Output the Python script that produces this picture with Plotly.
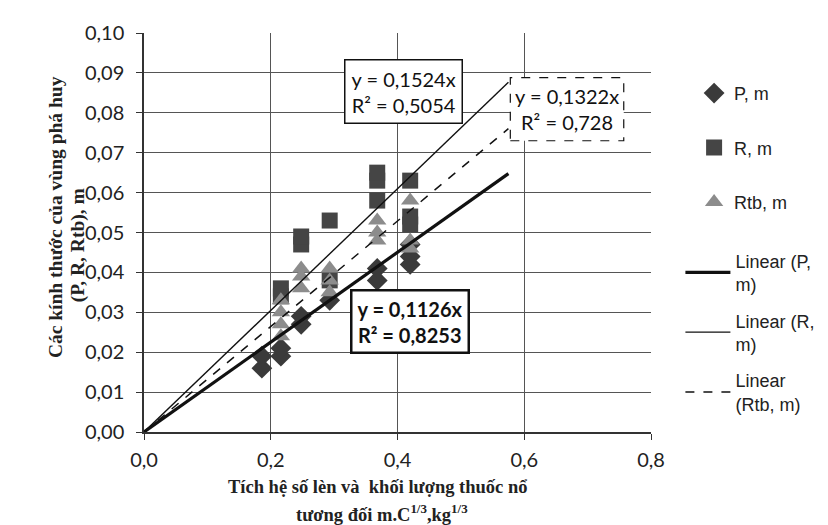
import plotly.graph_objects as go

# ---- data ----
p_x = [0.186, 0.186, 0.216, 0.216, 0.248, 0.248, 0.293, 0.368, 0.368, 0.42, 0.42, 0.42]
p_y = [0.016, 0.019, 0.019, 0.021, 0.027, 0.029, 0.033, 0.038, 0.041, 0.042, 0.044, 0.047]

r_x = [0.216, 0.216, 0.248, 0.248, 0.293, 0.293, 0.368, 0.368, 0.368, 0.42, 0.42, 0.42]
r_y = [0.034, 0.036, 0.047, 0.049, 0.038, 0.053, 0.058, 0.063, 0.065, 0.052, 0.054, 0.063]

rtb_x = [0.216, 0.216, 0.216, 0.216, 0.248, 0.248, 0.248, 0.293, 0.293, 0.293, 0.368, 0.368, 0.368, 0.42, 0.42, 0.42]
rtb_y = [0.024, 0.027, 0.030, 0.033, 0.036, 0.039, 0.041, 0.035, 0.038, 0.041, 0.048, 0.050, 0.053, 0.046, 0.048, 0.058]

slope_p, r2_p = 0.1126, 0.8253
slope_r, r2_r = 0.1524, 0.5054
slope_rtb, r2_rtb = 0.1322, 0.728
trend_x = [0.0, 0.575]

x_ticks = [0.0, 0.2, 0.4, 0.6, 0.8]
y_ticks = [0.00, 0.01, 0.02, 0.03, 0.04, 0.05, 0.06, 0.07, 0.08, 0.09, 0.10]

LEG_FONT = dict(family="Liberation Sans, Arial, sans-serif", size=18, color="#222")
TICK_FONT = dict(family="Lato, Carlito, sans-serif", size=20, color="#222")
SERIF = "Liberation Serif, Times New Roman, serif"
TITLE_FONT = dict(family=SERIF, size=19.5, color="#222")
XTITLE_FONT = dict(family=SERIF, size=18.5, color="#222")

fig = go.Figure()

fig.add_trace(go.Scatter(x=p_x, y=p_y, mode="markers", name="P, m",
                         marker=dict(symbol="diamond", size=16, color="#3a3a3a"),
                         legend="legend", legendgroup="a"))
fig.add_trace(go.Scatter(x=r_x, y=r_y, mode="markers", name="R, m",
                         marker=dict(symbol="square", size=16, color="#454545"),
                         legend="legend", legendgroup="b"))
fig.add_trace(go.Scatter(x=rtb_x, y=rtb_y, mode="markers", name="Rtb, m",
                         marker=dict(symbol="triangle-up", size=16, color="#8c8c8c"),
                         legend="legend", legendgroup="c"))

fig.add_trace(go.Scatter(x=trend_x, y=[slope_p * v for v in trend_x], mode="lines",
                         name="Linear (P,<br>m)", line=dict(color="#111", width=3.2),
                         legend="legend2", legendgroup="d"))
fig.add_trace(go.Scatter(x=trend_x, y=[slope_r * v for v in trend_x], mode="lines",
                         name="Linear (R,<br>m)", line=dict(color="#111", width=1.4),
                         legend="legend2", legendgroup="e"))
fig.add_trace(go.Scatter(x=trend_x, y=[slope_rtb * v for v in trend_x], mode="lines",
                         name="Linear<br>(Rtb, m)", line=dict(color="#111", width=1.5, dash="dash"),
                         legend="legend2", legendgroup="f"))

def fmt(v):
    return str(v).replace(".", ",")

BOX_FONT = dict(family="Lato, Carlito, sans-serif", size=20, color="#111")
annotations = [
    dict(x=0.409, y=0.0853, xref="x", yref="y", showarrow=False,
         text=f"y = {fmt(slope_r)}x<br>R² = {fmt(r2_r)}", font=BOX_FONT,
         bgcolor="white", bordercolor="#111", borderwidth=1.5, borderpad=6, align="center"),
    dict(x=0.6675, y=0.081, xref="x", yref="y", showarrow=False,
         text=f"y = {fmt(slope_rtb)}x<br>R² = {fmt(r2_rtb)}", font=BOX_FONT,
         bgcolor="rgba(0,0,0,0)", borderwidth=0, borderpad=4, align="center"),
    dict(x=0.419, y=0.0277, xref="x", yref="y", showarrow=False,
         text=f"<b>y = {fmt(slope_p)}x<br>R² = {fmt(r2_p)}</b>", font=BOX_FONT,
         bgcolor="white", bordercolor="#111", borderwidth=2.5, borderpad=5, align="center"),
    # y-axis title (two lines)
    dict(x=-0.174, y=0.538, xref="paper", yref="paper", showarrow=False, textangle=-90,
         xanchor="center", yanchor="middle",
         text="<b>Các kính thước của vùng phá huy</b>", font=TITLE_FONT),
    dict(x=-0.130, y=0.468, xref="paper", yref="paper", showarrow=False, textangle=-90,
         xanchor="center", yanchor="middle",
         text="<b>(P, R, Rtb), m</b>", font=TITLE_FONT),
    # x-axis title (two lines)
    dict(x=0.46, y=-0.137, xref="paper", yref="paper", showarrow=False,
         xanchor="center", yanchor="middle",
         text="<b>Tích hệ số lèn và  khối lượng thuốc nổ</b>", font=XTITLE_FONT),
    dict(x=0.469, y=-0.203, xref="paper", yref="paper", showarrow=False,
         xanchor="center", yanchor="middle",
         text="<b>tương đối m.C<sup>1/3</sup>,kg<sup>1/3</sup></b>", font=XTITLE_FONT),
]

shapes = [
    dict(type="rect", xref="x", yref="y", x0=0.578, x1=0.757, y0=0.073, y1=0.0888,
         line=dict(color="#111", width=1.2, dash="dash"), fillcolor="white", layer="above"),
]

fig.update_layout(
    width=828, height=525,
    margin=dict(l=136, r=185, t=18, b=101),
    paper_bgcolor="white", plot_bgcolor="white",
    separators=",.",
    showlegend=True,
    legend=dict(x=1.085, y=0.895, xanchor="left", yanchor="top", font=LEG_FONT,
                tracegroupgap=28, bgcolor="rgba(0,0,0,0)", itemwidth=30),
    legend2=dict(x=1.058, y=0.475, xanchor="left", yanchor="top", font=LEG_FONT,
                 tracegroupgap=10, bgcolor="rgba(0,0,0,0)", itemwidth=45),
    annotations=annotations,
    shapes=shapes,
    xaxis=dict(range=[0, 0.8], tickvals=x_ticks, tickformat=".1f",
               showgrid=True, gridcolor="#555", gridwidth=1.3,
               showline=True, linecolor="#333", linewidth=1.5,
               ticks="outside", ticklen=6, tickcolor="#333", ticklabelstandoff=3,
               tickfont=TICK_FONT, zeroline=False, fixedrange=True),
    yaxis=dict(range=[0, 0.1], tickvals=y_ticks, tickformat=".2f",
               showgrid=True, gridcolor="#555", gridwidth=1.3,
               showline=True, linecolor="#333", linewidth=1.5,
               ticks="outside", ticklen=6, tickcolor="#333", ticklabelstandoff=8,
               tickfont=TICK_FONT, zeroline=False, fixedrange=True),
)

fig.write_html("out.html")
